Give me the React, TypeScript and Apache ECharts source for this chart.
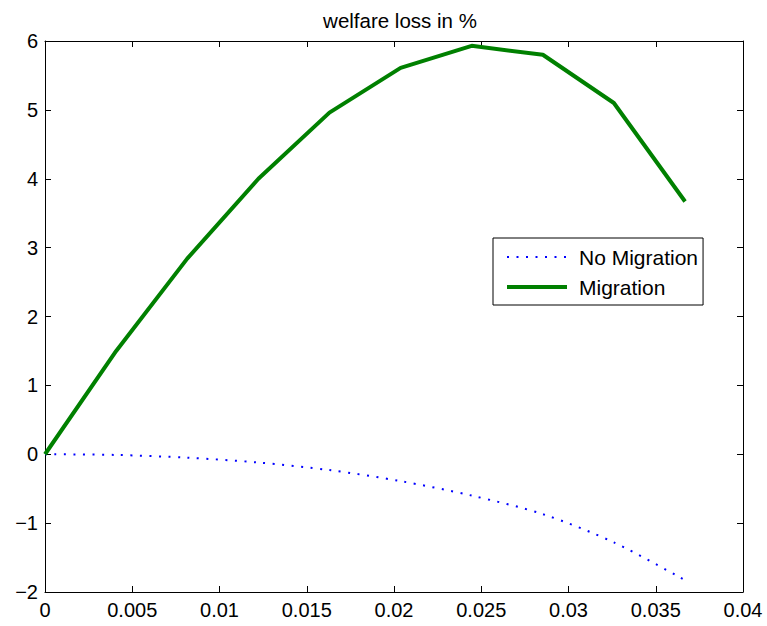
import React, { useEffect, useRef } from "react";
import * as echarts from "echarts";

const xValues = [0, 0.00408, 0.00815, 0.01223, 0.0163, 0.02038, 0.02445, 0.02853, 0.0326, 0.03668];
const noMigration = [0, -0.01, -0.05, -0.12, -0.23, -0.39, -0.6, -0.87, -1.28, -1.83];
const migration = [0, 1.5, 2.84, 4.0, 4.96, 5.61, 5.93, 5.8, 5.1, 3.67];
const seriesNames = ["No Migration", "Migration"];
const titleText = "welfare loss in %";

const FONT = "'Liberation Sans', Arial, Helvetica, sans-serif";

export default function App() {
  const ref = useRef<HTMLDivElement>(null);
  useEffect(() => {
    if (!ref.current) return;
    const chart = echarts.init(ref.current, undefined, { renderer: "svg" });
    const axisLine = { show: true, onZero: false, lineStyle: { color: "#000", width: 1 } };
    const axisTick = { show: true, inside: true, length: 6, lineStyle: { color: "#000", width: 1 } };
    const fmtX = (v: number) => String(+v.toFixed(3));
    const fmtY = (v: number) => (v < 0 ? "\u2212" + Math.abs(v) : String(v));
    chart.setOption({
      animation: false,
      backgroundColor: "#fff",
      textStyle: { fontFamily: FONT },
      title: {
        text: titleText,
        left: 395,
        textAlign: "center",
        top: 5,
        textStyle: { fontFamily: FONT, fontSize: 20.5, fontWeight: "normal", color: "#000" },
      },
      grid: { left: 45, right: 24, top: 41, bottom: 34, containLabel: false },
      legend: {
        orient: "vertical",
        left: 493,
        top: 238,
        padding: [7, 5, 6, 12],
        borderColor: "#000",
        borderWidth: 1,
        backgroundColor: "#fff",
        itemWidth: 60,
        itemHeight: 14,
        itemGap: 6,
        selectedMode: false,
        itemStyle: { opacity: 0 },
        textStyle: { fontFamily: FONT, fontSize: 21, color: "#000", lineHeight: 24, padding: [0, 0, 0, 7] },
        data: [
          { name: seriesNames[0], lineStyle: { color: "#0000ff", width: 2, type: [2, 7.5] } },
          { name: seriesNames[1], lineStyle: { color: "#008000", width: 4, type: "solid" } },
        ],
      },
      xAxis: [
        {
          type: "value",
          min: 0,
          max: 0.04,
          interval: 0.005,
          position: "bottom",
          axisLine,
          axisTick,
          splitLine: { show: false },
          axisLabel: { formatter: fmtX, fontFamily: FONT, fontSize: 20, color: "#000", margin: 8 },
        },
        {
          type: "value",
          min: 0,
          max: 0.04,
          interval: 0.005,
          position: "top",
          axisLine,
          axisTick,
          splitLine: { show: false },
          axisLabel: { show: false },
        },
      ],
      yAxis: [
        {
          type: "value",
          min: -2,
          max: 6,
          interval: 1,
          position: "left",
          axisLine,
          axisTick,
          splitLine: { show: false },
          axisLabel: { formatter: fmtY, fontFamily: FONT, fontSize: 20, color: "#000", margin: 7 },
        },
        {
          type: "value",
          min: -2,
          max: 6,
          interval: 1,
          position: "right",
          axisLine,
          axisTick,
          splitLine: { show: false },
          axisLabel: { show: false },
        },
      ],
      series: [
        {
          name: seriesNames[0],
          type: "line",
          xAxisIndex: 0,
          yAxisIndex: 0,
          symbol: "none",
          smooth: 0.3,
          data: xValues.map((x, i) => [x, noMigration[i]]),
          lineStyle: { color: "#0000ff", width: 2, type: [2, 7.5] },
          itemStyle: { color: "#0000ff" },
        },
        {
          name: seriesNames[1],
          type: "line",
          xAxisIndex: 0,
          yAxisIndex: 0,
          symbol: "none",
          data: xValues.map((x, i) => [x, migration[i]]),
          lineStyle: { color: "#008000", width: 4, type: "solid" },
          itemStyle: { color: "#008000" },
        },
      ],
    });
    return () => chart.dispose();
  }, []);
  return (
    <div
      ref={ref}
      style={{ position: "fixed", left: 0, top: 0, width: 767, height: 626, background: "#fff" }}
    />
  );
}
